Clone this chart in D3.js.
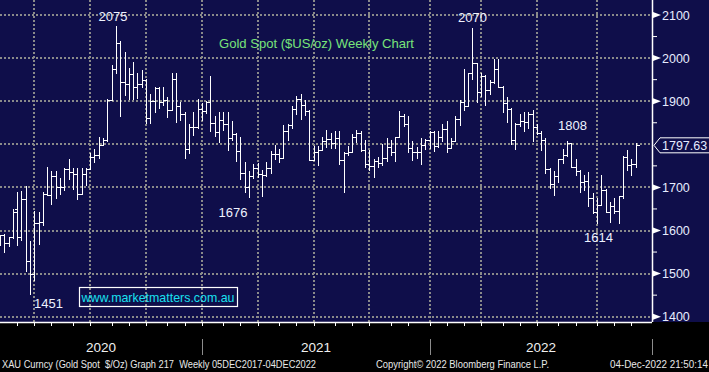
<!DOCTYPE html>
<html><head><meta charset="utf-8">
<script src="https://cdn.jsdelivr.net/npm/d3@7"></script>
<style>html,body{margin:0;padding:0;background:#000;} svg{display:block;}</style>
</head><body>
<svg id="chart" width="709" height="372"></svg>
<script>
// ---------- DATA ----------
const weeks = [
"2020-01-31","2020-02-07","2020-02-14","2020-02-21","2020-02-28","2020-03-06","2020-03-13","2020-03-20","2020-03-27",
"2020-04-03","2020-04-10","2020-04-17","2020-04-24","2020-05-01","2020-05-08","2020-05-15","2020-05-22","2020-05-29",
"2020-06-05","2020-06-12","2020-06-19","2020-06-26","2020-07-03","2020-07-10","2020-07-17","2020-07-24","2020-07-31",
"2020-08-07","2020-08-14","2020-08-21","2020-08-28","2020-09-04","2020-09-11","2020-09-18","2020-09-25",
"2020-10-02","2020-10-09","2020-10-16","2020-10-23","2020-10-30","2020-11-06","2020-11-13","2020-11-20","2020-11-27",
"2020-12-04","2020-12-11","2020-12-18","2020-12-25",
"2021-01-01","2021-01-08","2021-01-15","2021-01-22","2021-01-29","2021-02-05","2021-02-12","2021-02-19","2021-02-26",
"2021-03-05","2021-03-12","2021-03-19","2021-03-26","2021-04-02","2021-04-09","2021-04-16","2021-04-23","2021-04-30",
"2021-05-07","2021-05-14","2021-05-21","2021-05-28","2021-06-04","2021-06-11","2021-06-18","2021-06-25",
"2021-07-02","2021-07-09","2021-07-16","2021-07-23","2021-07-30","2021-08-06","2021-08-13","2021-08-20","2021-08-27",
"2021-09-03","2021-09-10","2021-09-17","2021-09-24","2021-10-01","2021-10-08","2021-10-15","2021-10-22","2021-10-29",
"2021-11-05","2021-11-12","2021-11-19","2021-11-26","2021-12-03","2021-12-10","2021-12-17","2021-12-24","2021-12-31",
"2022-01-07","2022-01-14","2022-01-21","2022-01-28","2022-02-04","2022-02-11","2022-02-18","2022-02-25",
"2022-03-04","2022-03-11","2022-03-18","2022-03-25","2022-04-01","2022-04-08","2022-04-15","2022-04-22","2022-04-29",
"2022-05-06","2022-05-13","2022-05-20","2022-05-27","2022-06-03","2022-06-10","2022-06-17","2022-06-24",
"2022-07-01","2022-07-08","2022-07-15","2022-07-22","2022-07-29","2022-08-05","2022-08-12","2022-08-19","2022-08-26",
"2022-09-02","2022-09-09","2022-09-16","2022-09-23","2022-09-30","2022-10-07","2022-10-14","2022-10-21","2022-10-28",
"2022-11-04","2022-11-11","2022-11-18","2022-11-25","2022-12-02"
];
const opens = [
1571,1589,1570,1584,1650,1585,1674,1529,1498,1617,1620,1684,1683,1727,1700,1702,1743,1735,1730,1685,1730,1743,1771,1775,1799,1810,1902,
1975,2035,1944,1940,1964,1934,1940,1950,1862,1900,1930,1899,1902,1879,1951,1889,1871,1788,1839,1839,1881,
1877,1898,1850,1828,1856,1848,1814,1824,1784,1734,1700,1727,1745,1732,1729,1744,1777,1777,1768,1831,1844,1881,1904,1892,1877,1764,
1781,1787,1808,1812,1802,1814,1763,1780,1781,1818,1827,1787,1754,1750,1761,1757,1768,1793,1783,1818,1865,1846,1792,1783,1782,1798,1811,
1829,1797,1818,1835,1791,1807,1859,1898,1889,1966,1989,1921,1958,1925,1945,1974,1932,1896,1883,1811,1846,1853,1851,1871,1840,
1827,1811,1742,1708,1727,1766,1775,1802,1747,1738,1712,1716,1675,1644,1660,1695,1644,1657,1645,1681,1771,1751,1755
];
const highs = [
1589,1591,1585,1649,1689,1692,1703,1575,1645,1644,1690,1747,1739,1738,1722,1744,1765,1744,1745,1744,1745,1779,1789,1818,1815,1906,1984,
2075,2039,2015,1976,1992,1966,1973,1952,1917,1933,1933,1933,1910,1965,1966,1898,1876,1848,1875,1906,1896,
1900,1959,1865,1875,1875,1875,1855,1826,1816,1760,1739,1755,1756,1740,1758,1785,1798,1790,1845,1846,1890,1913,1916,1903,1880,1795,
1795,1818,1834,1826,1832,1832,1782,1795,1823,1834,1830,1809,1787,1765,1770,1800,1814,1810,1818,1877,1870,1865,1808,1793,1815,1812,1831,
1831,1830,1848,1853,1815,1865,1902,1974,1966,2070,1989,1966,1960,1949,1998,1998,1936,1910,1884,1849,1870,1874,1875,1879,1847,
1830,1814,1745,1739,1767,1788,1808,1802,1765,1740,1729,1735,1688,1676,1729,1697,1667,1675,1681,1774,1787,1765,1804
];
const lows = [
1563,1547,1561,1580,1563,1575,1504,1451,1482,1567,1610,1680,1659,1672,1683,1691,1717,1694,1670,1685,1703,1741,1757,1765,1795,1806,1900,
1963,1863,1911,1902,1902,1906,1931,1848,1848,1873,1882,1890,1860,1877,1850,1853,1765,1777,1820,1835,1853,
1870,1829,1817,1802,1831,1785,1808,1760,1717,1687,1676,1719,1721,1677,1724,1730,1763,1756,1768,1808,1836,1869,1856,1866,1761,1761,
1750,1784,1791,1789,1790,1753,1688,1772,1780,1803,1782,1745,1737,1721,1746,1750,1760,1772,1758,1815,1841,1780,1762,1766,1753,1786,1790,
1783,1791,1805,1780,1788,1807,1843,1878,1889,1950,1895,1910,1890,1914,1940,1931,1872,1850,1798,1786,1839,1828,1836,1805,1822,
1785,1732,1697,1681,1711,1754,1771,1745,1727,1688,1691,1654,1639,1614,1659,1640,1617,1639,1616,1672,1737,1727,1744
];
const closes = [
1589,1570,1584,1643,1585,1674,1529,1498,1617,1620,1684,1683,1727,1700,1702,1743,1735,1730,1685,1730,1743,1771,1775,1799,1810,1902,1975,
2035,1944,1940,1964,1934,1940,1950,1862,1900,1930,1899,1902,1879,1951,1889,1871,1788,1839,1839,1881,1877,
1898,1850,1828,1856,1848,1814,1824,1784,1734,1700,1727,1745,1732,1729,1744,1777,1777,1768,1831,1844,1881,1904,1892,1877,1764,1781,
1787,1808,1812,1802,1814,1763,1780,1781,1818,1827,1787,1754,1750,1761,1757,1768,1793,1783,1818,1865,1846,1792,1783,1782,1798,1811,1829,
1797,1818,1835,1791,1807,1859,1898,1889,1966,1989,1921,1958,1925,1945,1974,1932,1896,1883,1811,1846,1853,1851,1871,1840,1827,
1811,1742,1708,1727,1766,1775,1802,1747,1738,1712,1716,1675,1644,1660,1695,1644,1657,1645,1681,1771,1751,1755,1797.63
];
const yTicks = [1400,1500,1600,1700,1800,1900,2000,2100];
const yMinorTicks = [1450,1550,1650,1750,1850,1950,2050];
const yearLabels = ["2020","2021","2022"];
const annotations = [
  {text:"2075", week:"2020-08-07", value:2075},
  {text:"1451", week:"2020-03-20", value:1451},
  {text:"1676", week:"2021-03-12", value:1676},
  {text:"2070", week:"2022-03-11", value:2070},
  {text:"1808", week:"2022-08-12", value:1808},
  {text:"1614", week:"2022-09-30", value:1614}
];
const lastPrice = "1797.63";
const titleText = "Gold Spot ($US/oz) Weekly Chart";
const watermark = "www.marketmatters.com.au";
const footerLeft = "XAU Curncy (Gold Spot  $/Oz) Graph 217  Weekly 05DEC2017-04DEC2022";
const footerMid = "Copyright\u00A9 2022 Bloomberg Finance L.P.";
const footerRight = "04-Dec-2022 21:50:14";

// ---------- DRAW ----------
const W = 709, H = 372;
const plotRight = 652, plotBottom = 322;
const parse = d3.timeParse("%Y-%m-%d");
const bars = weeks.map((w,i)=>({date:parse(w), o:opens[i], h:highs[i], l:lows[i], c:closes[i]}));

const x = d3.scaleTime().domain([parse("2020-03-20"), parse("2022-12-02")]).range([30, 635.7]);
const y = d3.scaleLinear().domain([1400, 2100]).range([316.7, 15]);

const svg = d3.select("#chart");
const font = "'Liberation Sans', Arial, sans-serif";

svg.append("rect").attr("x",0).attr("y",0).attr("width",W).attr("height",H).attr("fill","#000");
svg.append("rect").attr("x",0).attr("y",0).attr("width",W).attr("height",plotBottom).attr("fill","#0f0e4a");

// snapped period boundaries: last bar strictly before period start
const dates = bars.map(b=>b.date);
function snap(d){
  const i = d3.bisectLeft(dates, d) - 1;
  return i >= 0 ? dates[i] : null;
}
const quarterStarts = d3.timeMonth.every(3).range(parse("2020-01-01"), parse("2023-01-01"));
const monthStarts = d3.timeMonth.range(parse("2020-02-01"), parse("2023-01-01"));
const yearStarts = d3.timeYear.range(parse("2020-01-01"), parse("2023-01-01"));

const qx = quarterStarts.map(snap).filter(d=>d).map(d=>Math.round(x(d)));
const mx = monthStarts.map(snap).filter(d=>d).map(d=>Math.round(x(d)));

const grid = svg.append("g");
grid.selectAll("line.h").data(yTicks).join("line")
  .attr("x1",0).attr("x2",plotRight).attr("y1",d=>Math.round(y(d))).attr("y2",d=>Math.round(y(d)))
  .attr("stroke","#8a8a8a").attr("stroke-width",2).attr("stroke-dasharray","2,2");
grid.selectAll("line.v").data(qx.filter(v=>v>2 && v<plotRight)).join("line")
  .attr("x1",d=>d).attr("x2",d=>d).attr("y1",0).attr("y2",plotBottom)
  .attr("stroke","#8a8a8a").attr("stroke-width",2).attr("stroke-dasharray","2,2");

// OHLC bars
const gb = svg.append("g").attr("stroke","#fff").attr("stroke-width",1).attr("shape-rendering","crispEdges");
bars.forEach(b=>{
  const cx = Math.round(x(b.date)) + 0.5;
  gb.append("line").attr("x1",cx).attr("x2",cx).attr("y1",y(b.h)).attr("y2",y(b.l));
  gb.append("line").attr("x1",cx-3).attr("x2",cx).attr("y1",Math.round(y(b.o))+0.5).attr("y2",Math.round(y(b.o))+0.5);
  gb.append("line").attr("x1",cx).attr("x2",cx+3).attr("y1",Math.round(y(b.c))+0.5).attr("y2",Math.round(y(b.c))+0.5);
});

// right axis
const ly = y(closes[closes.length-1]);
const shownTicks = yTicks.filter(d=>Math.abs(y(d)-ly) > 9);
const ra = svg.append("g");
ra.append("line").attr("x1",plotRight+0.5).attr("x2",plotRight+0.5).attr("y1",0).attr("y2",plotBottom)
  .attr("stroke","#fff").attr("stroke-width",1.5);
ra.selectAll("path.tri").data(shownTicks).join("path")
  .attr("d",d=>{const yy=y(d); return `M${plotRight+1},${yy-3} L${plotRight+9},${yy} L${plotRight+1},${yy+3} Z`;})
  .attr("fill","#fff");
ra.selectAll("line.minor").data(yMinorTicks).join("line")
  .attr("x1",plotRight).attr("x2",plotRight+5).attr("y1",d=>y(d)).attr("y2",d=>y(d))
  .attr("stroke","#fff").attr("stroke-width",1);
ra.selectAll("text.yl").data(shownTicks).join("text")
  .attr("x",662).attr("y",d=>y(d)+4.5).text(d=>d)
  .attr("fill","#e6ecff").attr("font-family",font).attr("font-size",12.5);

// last price tag
ra.append("path")
  .attr("d",`M${plotRight+2},${ly} L${plotRight+8},${ly-7.5} L${W+2},${ly-7.5} L${W+2},${ly+7.5} L${plotRight+8},${ly+7.5} Z`)
  .attr("fill","#0f0e4a").attr("stroke","#fff").attr("stroke-width",1);
ra.append("text").attr("x",662).attr("y",ly+4.5).text(lastPrice)
  .attr("fill","#e6ecff").attr("font-family",font).attr("font-size",12.5);

// bottom axis
const ba = svg.append("g");
ba.append("line").attr("x1",0).attr("x2",plotRight).attr("y1",plotBottom+0.5).attr("y2",plotBottom+0.5)
  .attr("stroke","#fff").attr("stroke-width",1.5);
ba.selectAll("line.mt").data(mx.filter(v=>v>0 && v<plotRight)).join("line")
  .attr("x1",d=>d+0.5).attr("x2",d=>d+0.5).attr("y1",plotBottom).attr("y2",plotBottom+4)
  .attr("stroke","#fff").attr("stroke-width",1);
const yx = yearStarts.map(snap).map(d=>d?Math.round(x(d)):0);
const sepX = yx.slice(1).concat([plotRight]);
ba.selectAll("line.sep").data(sepX).join("line")
  .attr("x1",d=>d+0.5).attr("x2",d=>d+0.5).attr("y1",339).attr("y2",355)
  .attr("stroke","#8c8c8c").attr("stroke-width",1);
ba.selectAll("text.yr").data(yearLabels).join("text")
  .attr("x",(d,i)=>(Math.max(0,yx[i]) + (i<2? yx[i+1] : plotRight))/2)
  .attr("y",352).attr("text-anchor","middle").text(d=>d)
  .attr("fill","#f0f0f0").attr("font-family",font).attr("font-size",13.5);

// footer
const ft = svg.append("g").attr("fill","#e8e8e8").attr("font-family",font).attr("font-size",10);
ft.append("text").attr("x",2).attr("y",367.5).text(footerLeft).attr("textLength",314).attr("lengthAdjust","spacingAndGlyphs").style("white-space","pre");
ft.append("text").attr("x",376).attr("y",367.5).text(footerMid).attr("textLength",173).attr("lengthAdjust","spacingAndGlyphs");
ft.append("text").attr("x",610).attr("y",367.5).text(footerRight).attr("textLength",98).attr("lengthAdjust","spacingAndGlyphs");

// title
svg.append("text").attr("x",219).attr("y",48).text(titleText)
  .attr("fill","#78e47a").attr("font-family",font).attr("font-size",13)
  .attr("textLength",195).attr("lengthAdjust","spacingAndGlyphs");

// annotations
const annOffset = {"2075":[-3,-4.5],"2070":[0,-5.5],"1808":[5.5,-11],"1451":[18.5,13.5],"1676":[-16,19.5],"1614":[1.5,17.5]};
svg.selectAll("text.ann").data(annotations).join("text")
  .attr("x",d=>x(parse(d.week)) + annOffset[d.text][0])
  .attr("y",d=>y(d.value) + annOffset[d.text][1])
  .attr("text-anchor","middle").text(d=>d.text)
  .attr("fill","#eef2ff").attr("font-family",font).attr("font-size",13);

// watermark
svg.append("rect").attr("x",79.5).attr("y",287.5).attr("width",158).attr("height",19)
  .attr("fill","none").attr("stroke","#fff").attr("stroke-width",1.2);
svg.append("text").attr("x",81.5).attr("y",302).text(watermark)
  .attr("fill","#19e0f0").attr("font-family",font).attr("font-size",13)
  .attr("textLength",153).attr("lengthAdjust","spacingAndGlyphs");
</script>
</body></html>
